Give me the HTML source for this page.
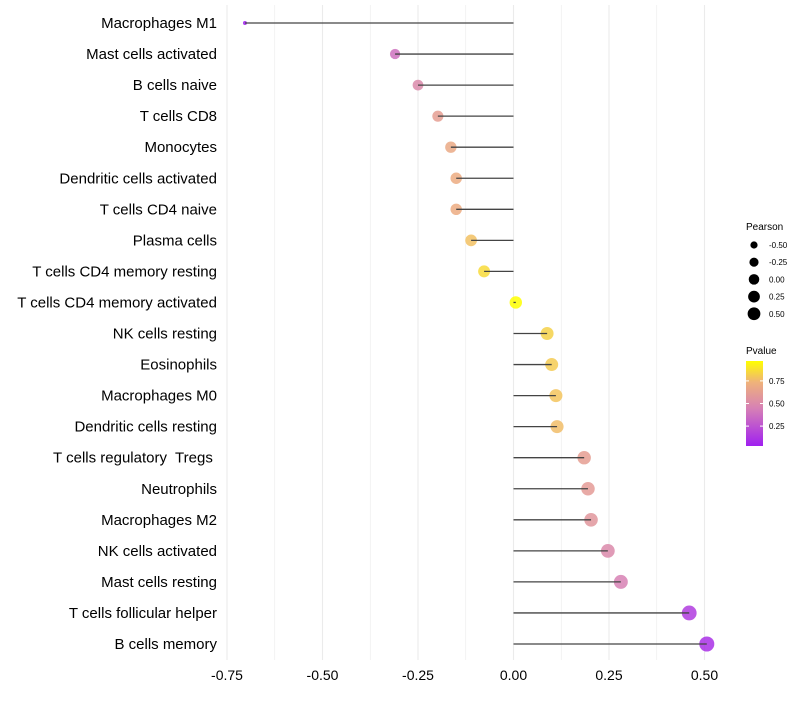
<!DOCTYPE html>
<html><head><meta charset="utf-8"><style>
body{margin:0;background:#fff;font-family:"Liberation Sans",sans-serif}
text{white-space:pre}
</style></head><body>
<svg id="c" width="800" height="700" xmlns="http://www.w3.org/2000/svg">
<defs><linearGradient id="pg" x1="0" y1="1" x2="0" y2="0">
<stop offset="0" stop-color="#a020f0"/><stop offset="0.45" stop-color="#d782b4"/><stop offset="0.75" stop-color="#efb27a"/><stop offset="1" stop-color="#ffff00"/></linearGradient></defs>
<g id="grid"></g><g id="marks"></g><g id="labels"></g><g id="legend"></g>
</svg>
<script>
const cells=["Macrophages M1","Mast cells activated","B cells naive","T cells CD8","Monocytes","Dendritic cells activated","T cells CD4 naive","Plasma cells","T cells CD4 memory resting","T cells CD4 memory activated","NK cells resting","Eosinophils","Macrophages M0","Dendritic cells resting","T cells regulatory  Tregs ","Neutrophils","Macrophages M2","NK cells activated","Mast cells resting","T cells follicular helper","B cells memory"];
const pearson=[-0.703,-0.31,-0.25,-0.198,-0.164,-0.15,-0.15,-0.111,-0.077,0.006,0.088,0.10,0.111,0.114,0.185,0.195,0.203,0.247,0.281,0.46,0.506];
const pvalue=[0.02,0.38,0.5,0.62,0.68,0.7,0.7,0.78,0.86,0.97,0.83,0.81,0.79,0.77,0.62,0.6,0.57,0.5,0.45,0.15,0.1];
const xTicks=[-0.75,-0.5,-0.25,0,0.25,0.5];
const xTickLabels=["-0.75","-0.50","-0.25","0.00","0.25","0.50"];
const sizeLegend=[-0.5,-0.25,0,0.25,0.5];
const sizeLegendLabels=["-0.50","-0.25","0.00","0.25","0.50"];
const pTicks=[0.25,0.5,0.75];
const NS="http://www.w3.org/2000/svg";
const X=v=>513.5+v*382;
const Y=i=>23+i*31.05;
const R=v=>2+5.5*Math.sqrt(Math.max(0,(v+0.7)/1.2));
const stops=[[0,[160,32,240]],[0.45,[215,130,180]],[0.75,[239,178,122]],[1,[255,255,0]]];
function col(p){const t=Math.max(0,Math.min(1,(p-0.03)/0.94));for(let k=1;k<stops.length;k++){if(t<=stops[k][0]){const a=stops[k-1],b=stops[k],f=(t-a[0])/(b[0]-a[0]);return `rgb(${a[1].map((c,j)=>Math.round(c+(b[1][j]-c)*f)).join(',')})`}}return 'rgb(255,255,0)'}
function mk(t,a,p){const e=document.createElementNS(NS,t);for(const k in a)e.setAttribute(k,a[k]);(p||document.getElementById('marks')).appendChild(e);return e}
const grid=document.getElementById('grid'),lab=document.getElementById('labels'),leg=document.getElementById('legend');
for(let v=-0.75;v<=0.56;v+=0.125){const g=mk('line',{x1:X(v),x2:X(v),y1:5,y2:660,stroke:'#ebebeb','stroke-width':Math.abs((v*4)%1)<0.01?1.1:0.6},grid);}
xTicks.forEach((v,i)=>{const t=mk('text',{x:X(v),y:680,'text-anchor':'middle','font-size':14,fill:'#000'},lab);t.textContent=xTickLabels[i];});
cells.forEach((c,i)=>{
 const t=mk('text',{x:217,y:Y(i)+5,'text-anchor':'end','font-size':15,fill:'#000'},lab);t.textContent=c;
 
 const d=mk('circle',{cx:X(pearson[i]),cy:Y(i),r:R(pearson[i]),fill:col(pvalue[i]),'fill-opacity':0.85});
 
 const l=mk('line',{x1:X(0),x2:X(pearson[i]),y1:Y(i),y2:Y(i),stroke:'#444','stroke-width':1.3});
 
});
let t=mk('text',{x:746,y:230,'font-size':10},leg);t.textContent='Pearson';
sizeLegend.forEach((v,i)=>{const yy=245+i*17.2;const c=mk('circle',{cx:754,cy:yy,r:R(v)*0.85,fill:'#000'},leg);
 const tt=mk('text',{x:769,y:yy+3,'font-size':8},leg);tt.textContent=sizeLegendLabels[i];});
t=mk('text',{x:746,y:354,'font-size':10},leg);t.textContent='Pvalue';
const cb=mk('rect',{x:746,y:361,width:17,height:85,fill:'url(#pg)'},leg);
pTicks.forEach(p=>{const yy=446-(p-0.03)/0.94*85;mk('line',{x1:746,x2:749,y1:yy,y2:yy,stroke:'#fff'},leg);mk('line',{x1:760,x2:763,y1:yy,y2:yy,stroke:'#fff'},leg);
 const tt=mk('text',{x:769,y:yy+3,'font-size':8},leg);tt.textContent=p.toFixed(2);});
</script>
</body></html>
